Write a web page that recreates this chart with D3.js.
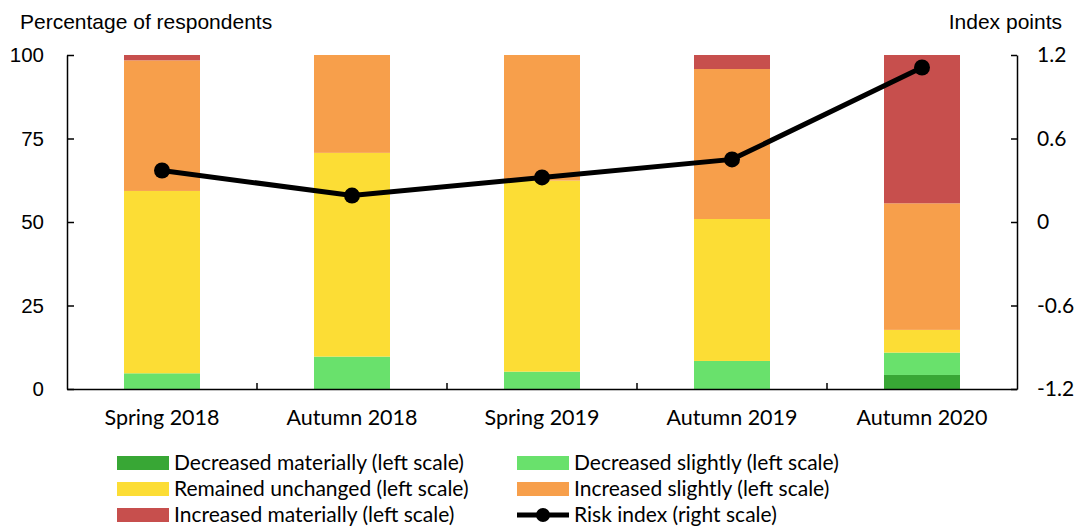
<!DOCTYPE html>
<html>
<head>
<meta charset="utf-8">
<script src="https://cdn.jsdelivr.net/npm/d3@7"></script>
<style>
  body { margin: 0; background: #fff; }
  .cal { font-family: Lato, "Open Sans", sans-serif; }
  .ari { font-family: "Liberation Sans", Arial, sans-serif; }
</style>
</head>
<body>
<div id="chart_div"></div>
<script>
const categories = ["Spring 2018", "Autumn 2018", "Spring 2019", "Autumn 2019", "Autumn 2020"];
const decreasedMaterially = [0, 0, 0, 0, 4.2];
const decreasedSlightly = [4.7, 9.7, 5.2, 8.4, 6.7];
const remainedUnchanged = [54.6, 61.0, 57.2, 42.5, 6.8];
const increasedSlightly = [39.1, 29.3, 37.6, 44.9, 37.9];
const increasedMaterially = [1.6, 0, 0, 4.2, 44.4];
const riskIndex = [0.37, 0.19, 0.32, 0.45, 1.11];
const leftTicks = [0, 25, 50, 75, 100];
const rightTicks = [-1.2, -0.6, 0, 0.6, 1.2];

const seriesNames = [
    "Decreased materially (left scale)",
    "Decreased slightly (left scale)",
    "Remained unchanged (left scale)",
    "Increased slightly (left scale)",
    "Increased materially (left scale)"
];
const seriesValues = [decreasedMaterially, decreasedSlightly, remainedUnchanged, increasedSlightly, increasedMaterially];
const colors = ["#38a735", "#69e16c", "#fcdd35", "#f79f4b", "#c74f4d"];

const width = 1078;
const height = 529;
const plotLeft = 67, plotRight = 1017, plotTop = 55, plotBottom = 389;

const table = categories.map((c, i) => {
    const row = { cat: c };
    seriesValues.forEach((s, k) => row["s" + k] = s[i]);
    return row;
});
const stack = d3.stack().keys(seriesValues.map((s, k) => "s" + k))(table);

const x = d3.scaleBand()
    .domain(categories)
    .range([plotLeft, plotRight])
    .paddingInner(0.6)
    .paddingOuter(0.3);

const y = d3.scaleLinear().domain([0, 100]).range([plotBottom, plotTop]);
const yR = d3.scaleLinear().domain([-1.2, 1.2]).range([plotBottom, plotTop]);

const svg = d3.select("#chart_div")
    .append("svg")
    .attr("width", width)
    .attr("height", height);

// bars
svg.append("g")
    .selectAll("g")
    .data(stack)
    .enter()
    .append("g")
    .attr("fill", (d, k) => colors[k])
    .selectAll("rect")
    .data(d => d)
    .enter()
    .append("rect")
    .attr("x", d => x(d.data.cat))
    .attr("width", x.bandwidth())
    .attr("y", d => y(d[1]))
    .attr("height", d => y(d[0]) - y(d[1]));

// left axis
const yAxis = svg.append("g")
    .attr("transform", `translate(${plotLeft},0)`)
    .call(d3.axisLeft(y).tickValues(leftTicks).tickSize(-7).tickSizeOuter(0).tickPadding(23));
yAxis.selectAll("text").attr("class", "ari").style("font-size", "20.5px").attr("fill", "#000");

// right axis
const yAxisR = svg.append("g")
    .attr("transform", `translate(${plotRight},0)`)
    .call(d3.axisRight(yR).tickValues(rightTicks).tickSize(-6).tickSizeOuter(0).tickPadding(20)
        .tickFormat(d => d === 0 ? "0" : d.toFixed(1)));
yAxisR.selectAll("text").attr("class", "cal").style("font-size", "21px").attr("fill", "#000");

// bottom axis
const xAxis = svg.append("g")
    .attr("transform", `translate(0,${plotBottom})`)
    .call(d3.axisBottom(x).tickSize(0).tickSizeOuter(0).tickPadding(21));
xAxis.selectAll("text").attr("class", "cal").style("font-size", "21.5px").attr("fill", "#000");
xAxis.selectAll(".boundary")
    .data(categories.slice(1))
    .enter()
    .append("line")
    .attr("class", "boundary")
    .attr("x1", d => x(d) - x.step() * x.paddingOuter())
    .attr("x2", d => x(d) - x.step() * x.paddingOuter())
    .attr("y1", 0)
    .attr("y2", -6)
    .attr("stroke", "#000");

svg.selectAll(".domain, .tick line, .boundary").attr("stroke", "#000").attr("stroke-width", 1.5);

// risk index line
const line = d3.line()
    .x((d, i) => x(categories[i]) + x.bandwidth() / 2)
    .y(d => yR(d));

svg.append("path")
    .datum(riskIndex)
    .attr("d", line)
    .attr("fill", "none")
    .attr("stroke", "#000")
    .attr("stroke-width", 5);

svg.append("g")
    .selectAll("circle")
    .data(riskIndex)
    .enter()
    .append("circle")
    .attr("cx", (d, i) => x(categories[i]) + x.bandwidth() / 2)
    .attr("cy", d => yR(d))
    .attr("r", 8)
    .attr("fill", "#000");

// titles
svg.append("text")
    .attr("class", "ari")
    .attr("x", 20)
    .attr("y", 29)
    .style("font-size", "21px")
    .text("Percentage of respondents");

svg.append("text")
    .attr("class", "ari")
    .attr("x", 1062)
    .attr("y", 29)
    .attr("text-anchor", "end")
    .style("font-size", "21px")
    .text("Index points");

// legend
const legend = svg.append("g").attr("class", "cal").style("font-size", "21px");
const legendCols = [117, 517];
const legendRows = [463, 489, 515];

seriesNames.forEach((name, k) => {
    const lx = legendCols[k % 2];
    const ly = legendRows[Math.floor(k / 2)];
    legend.append("rect")
        .attr("x", lx)
        .attr("y", ly - 7)
        .attr("width", 52)
        .attr("height", 14)
        .attr("fill", colors[k]);
    legend.append("text")
        .attr("x", lx + 57)
        .attr("y", ly)
        .attr("dy", "0.35em")
        .text(name);
});

const rx = legendCols[1], ry = legendRows[2];
legend.append("line")
    .attr("x1", rx).attr("x2", rx + 52)
    .attr("y1", ry).attr("y2", ry)
    .attr("stroke", "#000")
    .attr("stroke-width", 5);
legend.append("circle")
    .attr("cx", rx + 26)
    .attr("cy", ry)
    .attr("r", 7)
    .attr("fill", "#000");
legend.append("text")
    .attr("x", rx + 57)
    .attr("y", ry)
    .attr("dy", "0.35em")
    .text("Risk index (right scale)");
</script>
</body>
</html>
